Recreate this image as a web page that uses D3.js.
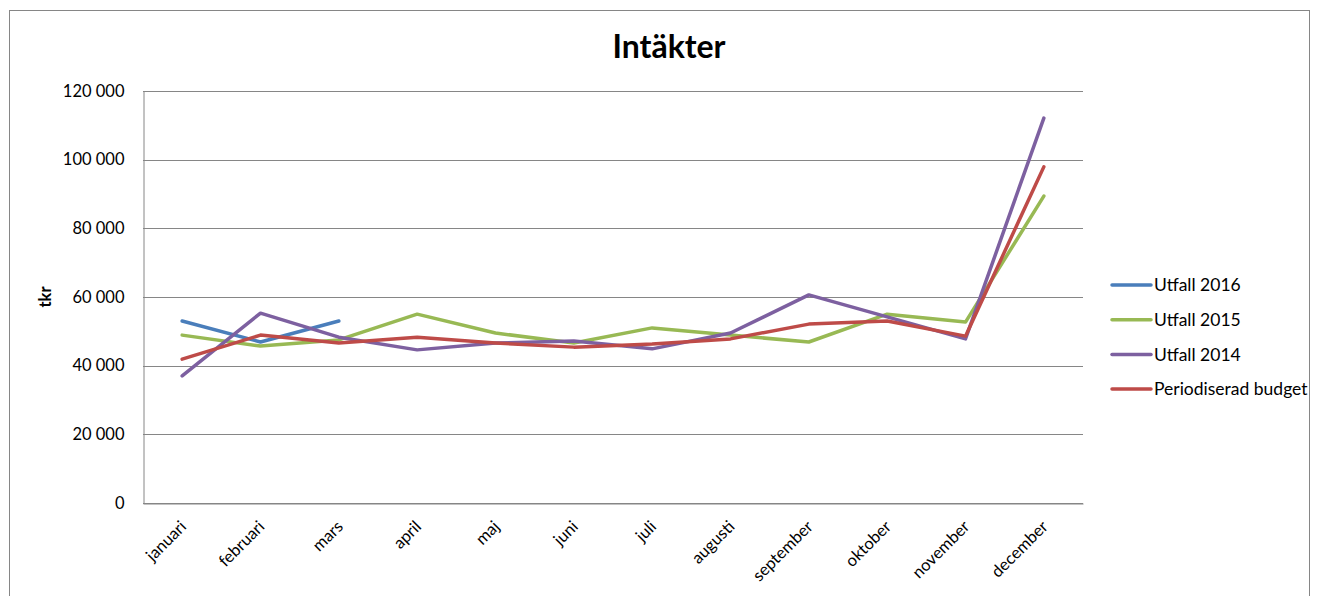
<!DOCTYPE html>
<html>
<head>
<meta charset="utf-8">
<script src="https://cdn.jsdelivr.net/npm/d3@7"></script>
<style>
  body { margin: 0; background: #fff; }
  text { font-family: Lato, "Noto Sans", sans-serif; fill: #000; }
</style>
</head>
<body>
<div id="container"></div>
<script>
/* CONSTANTS AND GLOBALS */
const width = 1318;
const height = 596;
const margin = { top: 91, right: 235, bottom: 93, left: 143 };

/* DATA */
const months = ["januari", "februari", "mars", "april", "maj", "juni", "juli",
  "augusti", "september", "oktober", "november", "december"];
const yTicks = [0, 20000, 40000, 60000, 80000, 100000, 120000];

const utfall2016 = [53000, 46900, 53000];
const utfall2015 = [48900, 45700, 47500, 55000, 49500, 46600, 51000, 48900, 46900, 55000, 52700, 89400];
const utfall2014 = [37000, 55300, 48300, 44600, 46600, 47200, 44900, 49500, 60600, 54200, 47800, 112100];
const budget = [41900, 48900, 46600, 48300, 46600, 45400, 46300, 47800, 52100, 53000, 48600, 97900];

const seriesNames = ["Utfall 2016", "Utfall 2015", "Utfall 2014", "Periodiserad budget"];
const seriesColors = ["#4A7EBB", "#98B954", "#7D60A0", "#BE4B48"];
const seriesValues = [utfall2016, utfall2015, utfall2014, budget];

const svg = d3.select("#container")
  .append("svg")
  .attr("width", width)
  .attr("height", height);

// outer chart border
svg.append("rect")
  .attr("x", 9.5).attr("y", 10.5)
  .attr("width", 1300).attr("height", 600)
  .attr("fill", "none")
  .attr("stroke", "#868686");

/* SCALES */
const xScale = d3.scaleBand()
  .domain(months)
  .range([margin.left, width - margin.right]);

const yScale = d3.scaleLinear()
  .domain([0, 120000])
  .range([height - margin.bottom, margin.top]);

const fmt = v => d3.format(",")(v).replace(/,/g, " ");

// grid lines
svg.append("g")
  .selectAll("line")
  .data(yTicks)
  .join("line")
  .attr("x1", margin.left)
  .attr("x2", width - margin.right)
  .attr("y1", d => Math.round(yScale(d)) + 0.5)
  .attr("y2", d => Math.round(yScale(d)) + 0.5)
  .attr("stroke", "#868686");

// y axis
const yAxis = svg.append("g")
  .attr("transform", `translate(${margin.left + 0.5},0)`)
  .call(d3.axisLeft(yScale).tickValues(yTicks).tickFormat(fmt).tickSize(0).tickPadding(19));
yAxis.select(".domain").attr("stroke", "#868686");
yAxis.selectAll("text")
  .style("font-family", "Lato, sans-serif")
  .style("font-size", "16.5px");

// x axis
const xAxis = svg.append("g")
  .attr("transform", `translate(0,${Math.round(yScale(0)) + 0.5})`)
  .call(d3.axisBottom(xScale).tickSize(0).tickFormat(d => d));
xAxis.select(".domain").attr("stroke", "#868686");
xAxis.selectAll("text")
  .style("font-family", "Lato, sans-serif")
  .style("font-size", "16.5px")
  .attr("text-anchor", "end")
  .attr("dy", 0)
  .attr("transform", "translate(3,22) rotate(-45)");

/* LINES */
const line = d3.line()
  .x((d, i) => xScale(months[i]) + xScale.bandwidth() / 2)
  .y(d => yScale(d));

svg.append("g")
  .selectAll("path")
  .data(seriesValues)
  .join("path")
  .attr("d", d => line(d))
  .attr("fill", "none")
  .attr("stroke", (d, i) => seriesColors[i])
  .attr("stroke-width", 3.5)
  .attr("stroke-linejoin", "round")
  .attr("stroke-linecap", "round");

/* LABELS */
svg.append("text")
  .attr("x", 669)
  .attr("y", 58)
  .attr("text-anchor", "middle")
  .style("font-size", "32px")
  .style("font-weight", "bold")
  .text("Intäkter");

svg.append("text")
  .attr("transform", "rotate(-90)")
  .attr("x", -297)
  .attr("y", 51)
  .attr("text-anchor", "middle")
  .style("font-size", "16.5px")
  .style("font-weight", "bold")
  .text("tkr");

/* LEGEND */
const legend = svg.append("g")
  .selectAll("g")
  .data(seriesNames)
  .join("g")
  .attr("transform", (d, i) => `translate(1112,${285 + i * 34.7})`);

legend.append("line")
  .attr("x1", 0).attr("x2", 39)
  .attr("stroke", (d, i) => seriesColors[i])
  .attr("stroke-width", 3.5)
  .attr("stroke-linecap", "round");

legend.append("text")
  .attr("x", 42)
  .attr("dy", "0.35em")
  .style("font-size", "17.5px")
  .text(d => d);
</script>
</body>
</html>
